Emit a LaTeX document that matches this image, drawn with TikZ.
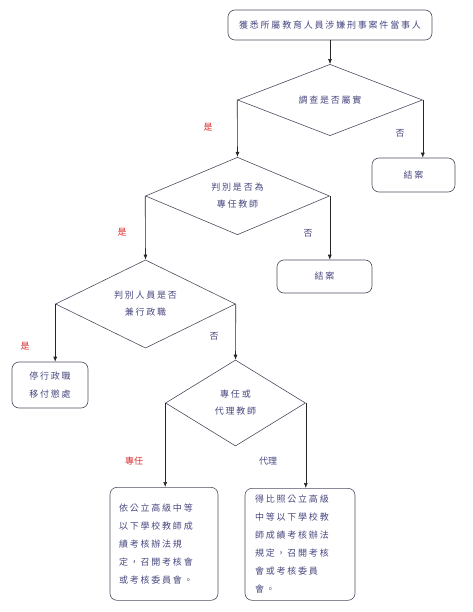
\documentclass[tikz,border=0pt]{standalone}
\usepackage{fontspec}
\setmainfont{Noto Sans CJK TC}
\usetikzlibrary{shapes.geometric,arrows.meta}
\definecolor{txt}{rgb}{0.28,0.28,0.50}
\definecolor{lbl}{rgb}{0.85,0.18,0.18}
\definecolor{edge}{rgb}{0.30,0.30,0.38}
\newfontfamily\cjkspaced[LetterSpace=20]{Noto Sans CJK TC}
\tikzset{
  boxnode/.style={draw=edge, line width=0.6pt, rounded corners=7pt, inner sep=0pt,
    font=\cjkspaced\fontsize{9}{18}\selectfont, text=txt, align=left},
  decision/.style={draw=edge, line width=0.6pt, shape=diamond, inner sep=0pt,
    font=\cjkspaced\fontsize{9}{17}\selectfont, text=txt, align=center},
  conn/.style={draw=black!85, line width=0.6pt, -{Latex[length=5pt,width=4pt]}},
  yeslbl/.style={text=lbl, font=\fontsize{9}{10}\selectfont},
  nolbl/.style={text=txt, font=\fontsize{9}{10}\selectfont}
}
\begin{document}
\begin{tikzpicture}[x=1pt,y=-1pt]
\useasboundingbox (0,0) rectangle (472,612);
% nodes
\node[boxnode, minimum width=204pt, minimum height=30pt, align=center] (top) at (330,25) {獲悉所屬教育人員涉嫌刑事案件當事人};
\node[decision, minimum width=185pt, minimum height=50pt] (d1) at (330,100) {調查是否屬實};
\node[boxnode, minimum width=83pt, minimum height=34pt, align=center] (end1) at (413.5,175) {結案};
\node[decision, minimum width=184pt, minimum height=76pt] (d2) at (237.5,196) {判別是否為\\專任教師};
\node[boxnode, minimum width=95pt, minimum height=33pt, align=center] (end2) at (324.5,276.5) {結案};
\node[decision, minimum width=180pt, minimum height=84pt] (d3) at (145.5,304) {判別人員是否\\兼行政職};
\node[boxnode, minimum width=76pt, minimum height=46pt, align=center] (b3) at (50,385) {停行政職\\移付懲處};
\node[decision, minimum width=140pt, minimum height=86pt] (d4) at (235.5,403) {專任或\\代理教師};
\node[boxnode, minimum width=108pt, minimum height=113pt, text width=90pt, align=left, anchor=north] (bL) at (164,487) {依公立高級中等\\以下學校教師成\\績考核辦法規\\定，召開考核會\\或考核委員會。\\[8pt]};
\node[boxnode, minimum width=110pt, minimum height=112pt, text width=90pt, align=left, anchor=north] (bR) at (300,488) {得比照公立高級\\中等以下學校教\\師成績考核辦法\\規定，召開考核\\會或考核委員\\會。};
% connectors
\draw[conn] (top.south) -- (d1.north);
\draw[conn] (d1.west) -- (d2.north);
\draw[conn] (d1.east) -- (d1.east |- end1.north);
\draw[conn] (d2.east) -- (d2.east |- end2.north);
\draw[conn] (d2.west) -- (d3.north);
\draw[conn] (d3.west) -- (d3.west |- b3.north);
\draw[conn] (d3.east) -- (d4.north);
\draw[conn] (d4.west) -- (d4.west |- bL.north);
\draw[conn] (d4.east) -- (d4.east |- bR.north);
% labels
\node[yeslbl] (l1) at (208,127) {是};
\node[nolbl] (l2) at (400,133) {否};
\node[yeslbl] (l3) at (122,232) {是};
\node[nolbl] (l4) at (308,233) {否};
\node[yeslbl] (l5) at (25,346) {是};
\node[nolbl] (l6) at (214,336) {否};
\node[yeslbl] (l7) at (134,461) {專任};
\node[nolbl] (l8) at (268,461) {代理};
\end{tikzpicture}
\end{document}
